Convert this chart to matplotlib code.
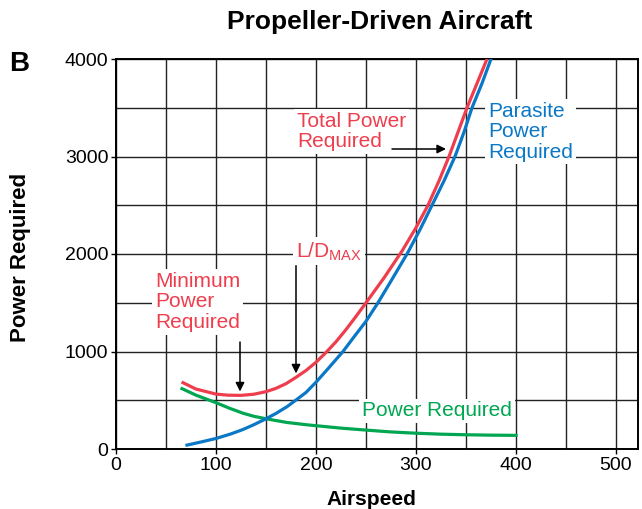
import numpy as np
import matplotlib
matplotlib.use('Agg')
import matplotlib.pyplot as plt

plt.rcParams['font.family'] = ['Liberation Sans', 'DejaVu Sans']

# curves (airspeed, power)
total_x = [67, 80, 100, 112, 125, 138, 150, 160, 170, 180, 190, 200, 210, 220, 230, 240, 250,
           268, 286, 300, 312, 323, 333, 342, 351, 361, 371, 377]
total_y = [680, 615, 563, 552, 550, 562, 588, 622, 670, 735, 805, 890, 990, 1100, 1225, 1360, 1500,
           1755, 2030, 2270, 2500, 2750, 3000, 3250, 3500, 3750, 4000, 4150]

parasite_x = [71, 85, 100, 115, 127, 138, 150, 160, 171, 181, 190, 200, 213, 227, 238, 250, 262,
              276, 291, 304, 316, 328, 339, 348, 356, 366, 375, 381]
parasite_y = [40, 72, 108, 155, 200, 250, 310, 365, 434, 510, 580, 685, 835, 1000, 1150, 1310, 1500,
              1740, 2000, 2250, 2500, 2750, 3000, 3250, 3500, 3750, 4000, 4150]

induced_x = [66, 80, 100, 113, 127, 138, 150, 171, 192, 200, 225, 250, 275, 300, 325, 350, 375, 400]
induced_y = [619, 552, 475, 420, 367, 335, 310, 272, 247, 239, 214, 194, 175, 162, 152, 146, 142, 140]

x_ticks = [0, 100, 200, 300, 400, 500]
y_ticks = [0, 1000, 2000, 3000, 4000]

red = '#EE3E4E'
blue = '#0A78C6'
green = '#00A651'

fig = plt.figure(figsize=(6.42, 5.09), dpi=100)
ax = fig.add_axes([116 / 642, 1 - 449 / 509, (638 - 116) / 642, (449 - 59) / 509])

ax.set_xlim(0, 522)
ax.set_ylim(0, 4000)
ax.set_xticks(x_ticks)
ax.set_yticks(y_ticks)
ax.set_xticks(np.arange(50, 522, 100), minor=True)
ax.set_yticks([500, 1500, 2500, 3500], minor=True)
ax.grid(which='both', color='#222222', lw=1.0, zorder=0)
ax.set_axisbelow(True)
ax.tick_params(which='major', length=3.5, width=1, pad=2, labelsize=14)
ax.tick_params(which='minor', length=0)
for s in ax.spines.values():
    s.set_linewidth(1.4)

ax.plot(induced_x, induced_y, color=green, lw=2.3, zorder=3, solid_joinstyle='round')
ax.plot(parasite_x, parasite_y, color=blue, lw=2.3, zorder=3, solid_joinstyle='round')
ax.plot(total_x, total_y, color=red, lw=2.3, zorder=4, solid_joinstyle='round')

box = dict(facecolor='white', edgecolor='none', pad=2)
ax.text(39, 1508, 'Minimum\nPower\nRequired', color=red, fontsize=15, ha='left', va='center',
        linespacing=1.1, bbox=box, zorder=5)
ax.text(180, 1970, r'L/D$_\mathregular{MAX}$', color=red, fontsize=15, ha='left', va='baseline',
        bbox=box, zorder=5)
ax.text(181, 3256, 'Total Power\nRequired', color=red, fontsize=15, ha='left', va='center',
        linespacing=1.1, bbox=box, zorder=5)
ax.text(372, 3256, 'Parasite\nPower\nRequired', color=blue, fontsize=15, ha='left', va='center',
        linespacing=1.1, bbox=box, zorder=5)
ax.text(246, 390, 'Power Required', color=green, fontsize=15, ha='left', va='center',
        bbox=box, zorder=5)

arrow = dict(arrowstyle='-|>', color='black', lw=1.1, mutation_scale=13, shrinkA=0, shrinkB=0)
ax.annotate('', xy=(124, 590), xytext=(124, 1097), arrowprops=arrow, zorder=6)
ax.annotate('', xy=(180, 775), xytext=(180, 1880), arrowprops=arrow, zorder=6)
ax.annotate('', xy=(330, 3077), xytext=(276, 3077), arrowprops=arrow, zorder=6)

ax.set_xlabel('Airspeed', fontsize=15, fontweight='bold')
ax.xaxis.set_label_coords((371 - 116) / 522, -0.105)
ax.set_ylabel('Power Required', fontsize=16, fontweight='bold')
ax.yaxis.set_label_coords((31 - 116) / 522, 0.49)

fig.text(380 / 642, 1 - 22 / 509, 'Propeller-Driven Aircraft', fontsize=19, fontweight='bold',
         ha='center', va='center')
fig.text(9 / 642, 1 - 71 / 509, 'B', fontsize=20, fontweight='bold', ha='left', va='baseline')

fig.savefig('out.png', dpi=100)
